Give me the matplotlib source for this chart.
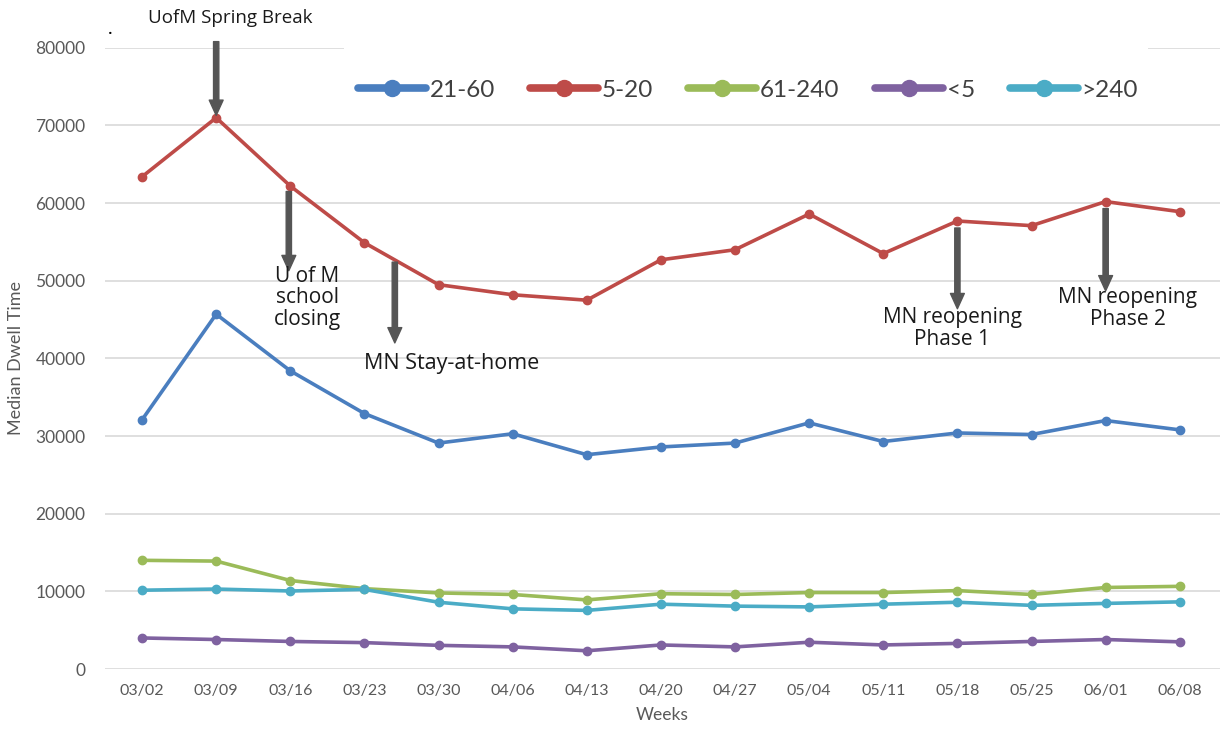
import matplotlib.pyplot as plt
from matplotlib.patches import Rectangle

weeks = ['03/02', '03/09', '03/16', '03/23', '03/30', '04/06', '04/13', '04/20',
         '04/27', '05/04', '05/11', '05/18', '05/25', '06/01', '06/08']

d21_60 = [32100, 45700, 38400, 32900, 29100, 30300, 27600, 28600, 29100, 31700,
          29300, 30400, 30200, 32000, 30800]
d5_20 = [63400, 71000, 62200, 54900, 49500, 48200, 47500, 52700, 54000, 58600,
         53500, 57700, 57100, 60200, 58900]
d61_240 = [14000, 13900, 11400, 10350, 9800, 9600, 8900, 9700, 9600, 9850,
           9850, 10100, 9600, 10500, 10650]
d_lt5 = [4000, 3800, 3550, 3400, 3050, 2850, 2350, 3100, 2850, 3450,
         3100, 3300, 3550, 3800, 3500]
d_gt240 = [10150, 10300, 10050, 10250, 8600, 7750, 7550, 8350, 8100, 8000,
           8350, 8600, 8200, 8450, 8650]

series = [('21-60', d21_60, '#4a7ebf'),
          ('5-20', d5_20, '#be4b48'),
          ('61-240', d61_240, '#9bbb59'),
          ('<5', d_lt5, '#7f62a0'),
          ('>240', d_gt240, '#4bacc6')]

# events: (label, x index, arrow start, arrow end, text x, text y, size)
events = [('UofM Spring Break', 1.0, 80800, 71300, 1.19, 83900, 13.5),
          ('U of M\nschool\nclosing', 1.98, 61500, 51300, 2.23, 47800, 15),
          ('MN Stay-at-home', 3.41, 52400, 42000, 4.17, 39300, 15.5),
          ('MN reopening\nPhase 1', 11.0, 56800, 46400, 10.93, 43900, 15),
          ('MN reopening\nPhase 2', 13.0, 59300, 48700, 13.3, 46400, 15)]

plt.rcParams['font.family'] = ['Lato', 'DejaVu Sans']

fig = plt.figure(figsize=(12.21, 7.36), dpi=100)
ax = fig.add_axes([0.086, 0.091, 0.913, 0.844])

x = list(range(len(weeks)))
for name, vals, col in series:
    ax.plot(x, vals, color=col, lw=2.6, marker='o', ms=6,
            label=name, clip_on=False, zorder=3)

ax.set_xlim(-0.5, 14.54)
ax.set_ylim(0, 80000)
ax.set_yticks(range(0, 80001, 10000))
ax.set_xticks(x)
ax.set_xticklabels(weeks)
ax.grid(axis='y', color='#d9d9d9', lw=1.2)
ax.set_axisbelow(True)
for s in ax.spines.values():
    s.set_visible(False)
ax.tick_params(axis='y', length=0, pad=14, labelsize=12.5, labelcolor='#595959')
ax.tick_params(axis='x', length=0, pad=11, labelsize=11.5, labelcolor='#595959')
ax.set_ylabel('Median Dwell Time', fontsize=13, color='#595959', labelpad=8)
ax.set_xlabel('Weeks', fontsize=12.5, color='#595959', labelpad=6)

# white legend box covering the top gridlines
fig.patches.append(Rectangle((344 / 1221, 1 - 124 / 736), (1148 - 344) / 1221,
                             (124 - 30) / 736, transform=fig.transFigure,
                             facecolor='white', edgecolor='none', zorder=1))
leg_handles = []
for name, vals, col in series:
    h, = ax.plot([], [], color=col, lw=5.5, marker='o', ms=11.5, label=name,
                 solid_capstyle='round')
    leg_handles.append(h)
fig.legend(handles=leg_handles, loc='center', bbox_to_anchor=(748 / 1221, 1 - 90 / 736),
           ncol=5, frameon=False, fontsize=17.5, handlelength=2.8, handletextpad=0.15,
           columnspacing=1.45, labelcolor='#404040', numpoints=1)

for label, xi, y0, y1, tx, ty, fs in events:
    ax.annotate('', xy=(xi, y1), xytext=(xi, y0),
                arrowprops=dict(arrowstyle='simple,head_width=1.0,head_length=1.1,tail_width=0.38',
                                color='#555555', mutation_scale=10, shrinkA=0, shrinkB=0),
                annotation_clip=False, zorder=4)
    ax.text(tx, ty, label, ha='center', va='center', fontsize=fs,
            family=['Open Sans', 'DejaVu Sans'], color='#1a1a1a', linespacing=1.05,
            clip_on=False, zorder=5)

fig.text(110 / 1221, 1 - 28 / 736, '.', fontsize=14, color='black', ha='center', va='center')

fig.savefig('out.png', dpi=100)
